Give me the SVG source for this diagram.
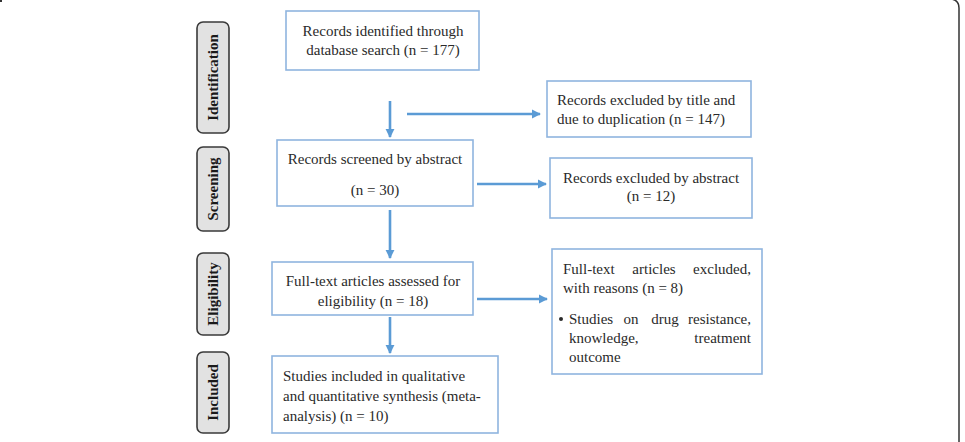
<svg xmlns="http://www.w3.org/2000/svg" width="965" height="442" viewBox="0 0 965 442">
<style>
.bg{fill:#ffffff}
.frame{fill:none;stroke:#333;stroke-width:1.5}
.stage rect{fill:#e2e2e2;stroke:#3a3a3a;stroke-width:1.6}
.stage text{font-family:"Liberation Serif",serif;font-weight:bold;font-size:15px;fill:#1a1a1a;text-anchor:middle}
.box rect{fill:#ffffff;stroke:#8fb5df;stroke-width:1.6}
.box text{font-family:"Liberation Serif",serif;font-size:15px;fill:#2a2a2a}
.c{text-anchor:middle}
.e{text-anchor:end}
.conn line{stroke:#5b9bd5;stroke-width:2.6}
</style>
<defs>
<marker id="ah" viewBox="0 0 10 10" refX="9" refY="5" markerWidth="3.5" markerHeight="3.5" orient="auto" markerUnits="strokeWidth">
<path d="M0,0 L10,5 L0,10 z" fill="#5b9bd5"/>
</marker>
</defs>
<rect class="bg" x="0" y="0" width="965" height="442"/>
<path class="frame" d="M959 442 V8 Q959 0 951 -1"/>
<rect x="0" y="0" width="2" height="2" fill="#333"/>

<g id="stage-identification" class="stage"><rect x="197" y="22" width="32" height="111" rx="6"/><text transform="translate(218,77.5) rotate(-90)">Identification</text></g>
<g id="stage-screening" class="stage"><rect x="197" y="147" width="32" height="84" rx="6"/><text transform="translate(218,189) rotate(-90)">Screening</text></g>
<g id="stage-eligibility" class="stage"><rect x="197" y="253" width="32" height="82" rx="6"/><text transform="translate(218,294) rotate(-90)">Eligibility</text></g>
<g id="stage-included" class="stage"><rect x="197" y="352" width="32" height="81" rx="6"/><text transform="translate(218,392.5) rotate(-90)">Included</text></g>

<g id="identified" class="box"><rect x="286" y="11" width="193" height="59"/><text class="c" x="383" y="36">Records identified through</text><text class="c" x="383" y="55">database search (n = 177)</text></g>
<g id="excluded-title" class="box"><rect x="547" y="81" width="204" height="56"/><text x="557" y="105">Records excluded by title and</text><text x="557" y="124">due to duplication (n = 147)</text></g>
<g id="screened" class="box"><rect x="277" y="140" width="196" height="66"/><text class="c" x="375" y="164">Records screened by abstract</text><text class="c" x="375" y="195">(n = 30)</text></g>
<g id="excluded-abstract" class="box"><rect x="550" y="158" width="202" height="60"/><text class="c" x="651" y="183">Records excluded by abstract</text><text class="c" x="651" y="201">(n = 12)</text></g>
<g id="assessed" class="box"><rect x="272" y="262" width="201" height="53"/><text class="c" x="373" y="286">Full-text articles assessed for</text><text class="c" x="373" y="306">eligibility (n = 18)</text></g>
<g id="excluded-fulltext" class="box"><rect x="552" y="249" width="210" height="125"/>
<text x="563" y="274">Full-text</text><text class="c" x="654" y="274">articles</text><text class="e" x="751" y="274">excluded,</text>
<text x="563" y="293">with reasons (n = 8)</text>
<circle cx="561" cy="319" r="2" fill="#2a2a2a"/>
<text x="569" y="324">Studies</text><text class="c" x="631" y="324">on</text><text class="c" x="665" y="324">drug</text><text class="e" x="751" y="324">resistance,</text>
<text x="569" y="343">knowledge,</text><text class="e" x="751" y="343">treatment</text>
<text x="569" y="362">outcome</text></g>
<g id="included" class="box"><rect x="272" y="356" width="226" height="77"/><text x="283" y="381">Studies included in qualitative</text><text x="283" y="401">and quantitative synthesis (meta-</text><text x="283" y="421">analysis) (n = 10)</text></g>

<g id="connectors" class="conn">
<line x1="390" y1="101" x2="390" y2="137" marker-end="url(#ah)"/>
<line x1="407" y1="114" x2="540" y2="114" marker-end="url(#ah)"/>
<line x1="477" y1="184" x2="546" y2="184" marker-end="url(#ah)"/>
<line x1="390" y1="210" x2="390" y2="258" marker-end="url(#ah)"/>
<line x1="390" y1="317" x2="390" y2="353" marker-end="url(#ah)"/>
<line x1="477" y1="299" x2="547" y2="299" marker-end="url(#ah)"/>
</g>
</svg>
